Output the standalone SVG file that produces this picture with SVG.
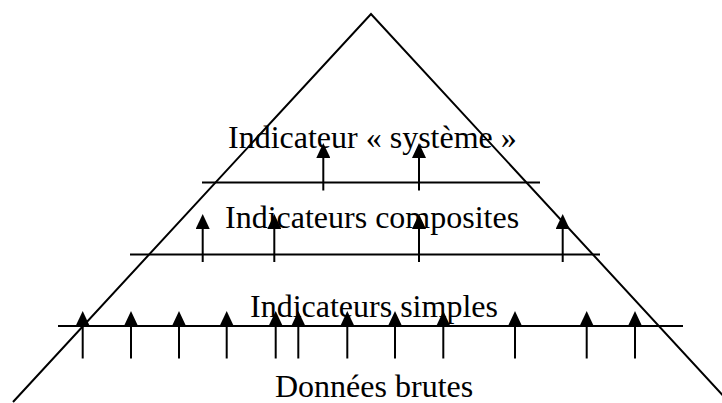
<svg xmlns="http://www.w3.org/2000/svg" width="722" height="403" viewBox="0 0 722 403">
<style>
  .lbl { font-family: "Liberation Serif", "Times New Roman", serif; font-size: 32px; fill: #000; }
  .ln { stroke: #000; stroke-width: 2; fill: none; }
  .arr { stroke: #000; stroke-width: 2; fill: none; marker-end: url(#head); }
</style>
<defs>
  <marker id="head" viewBox="0 0 15 14" refX="0" refY="7" markerWidth="15" markerHeight="14" markerUnits="userSpaceOnUse" orient="auto">
    <path d="M0,0 L15,7 L0,14 z" fill="#000"/>
  </marker>
</defs>
<rect width="722" height="403" fill="#fff"/>
<g id="pyramid">
  <polyline class="ln" points="13,402 371,14 729,402"/>
</g>
<g id="systeme">
  <text class="lbl" x="228" y="148">Indicateur « système »</text>
</g>
<g id="composites">
  <text class="lbl" x="225" y="228">Indicateurs composites</text>
</g>
<g id="simples">
  <text class="lbl" x="250" y="317">Indicateurs simples</text>
</g>
<g id="donnees">
  <text class="lbl" x="275" y="397">Données brutes</text>
</g>
<g id="levels">
  <line class="ln" x1="202" y1="182.5" x2="540" y2="182.5"/>
  <line class="ln" x1="130" y1="254.5" x2="600" y2="254.5"/>
  <line class="ln" x1="58" y1="326" x2="683" y2="326"/>
</g>
<g id="connectors">
  <line class="arr" x1="323.3" y1="190.5" x2="323.3" y2="158"/>
  <line class="arr" x1="419" y1="190.5" x2="419" y2="158"/>

  <line class="arr" x1="202.7" y1="262" x2="202.7" y2="229"/>
  <line class="arr" x1="274.3" y1="262" x2="274.3" y2="229"/>
  <line class="arr" x1="419" y1="262" x2="419" y2="229"/>
  <line class="arr" x1="562.7" y1="262" x2="562.7" y2="229"/>

  <line class="arr" x1="82.7" y1="358.5" x2="82.7" y2="326"/>
  <line class="arr" x1="131" y1="358.5" x2="131" y2="326"/>
  <line class="arr" x1="179" y1="358.5" x2="179" y2="326"/>
  <line class="arr" x1="226.7" y1="358.5" x2="226.7" y2="326"/>
  <line class="arr" x1="275.7" y1="358.5" x2="275.7" y2="326"/>
  <line class="arr" x1="298.3" y1="358.5" x2="298.3" y2="326"/>
  <line class="arr" x1="347.3" y1="358.5" x2="347.3" y2="326"/>
  <line class="arr" x1="395" y1="358.5" x2="395" y2="326"/>
  <line class="arr" x1="443.3" y1="358.5" x2="443.3" y2="326"/>
  <line class="arr" x1="515" y1="358.5" x2="515" y2="326"/>
  <line class="arr" x1="586.7" y1="358.5" x2="586.7" y2="326"/>
  <line class="arr" x1="635" y1="358.5" x2="635" y2="326"/>
</g>
</svg>
